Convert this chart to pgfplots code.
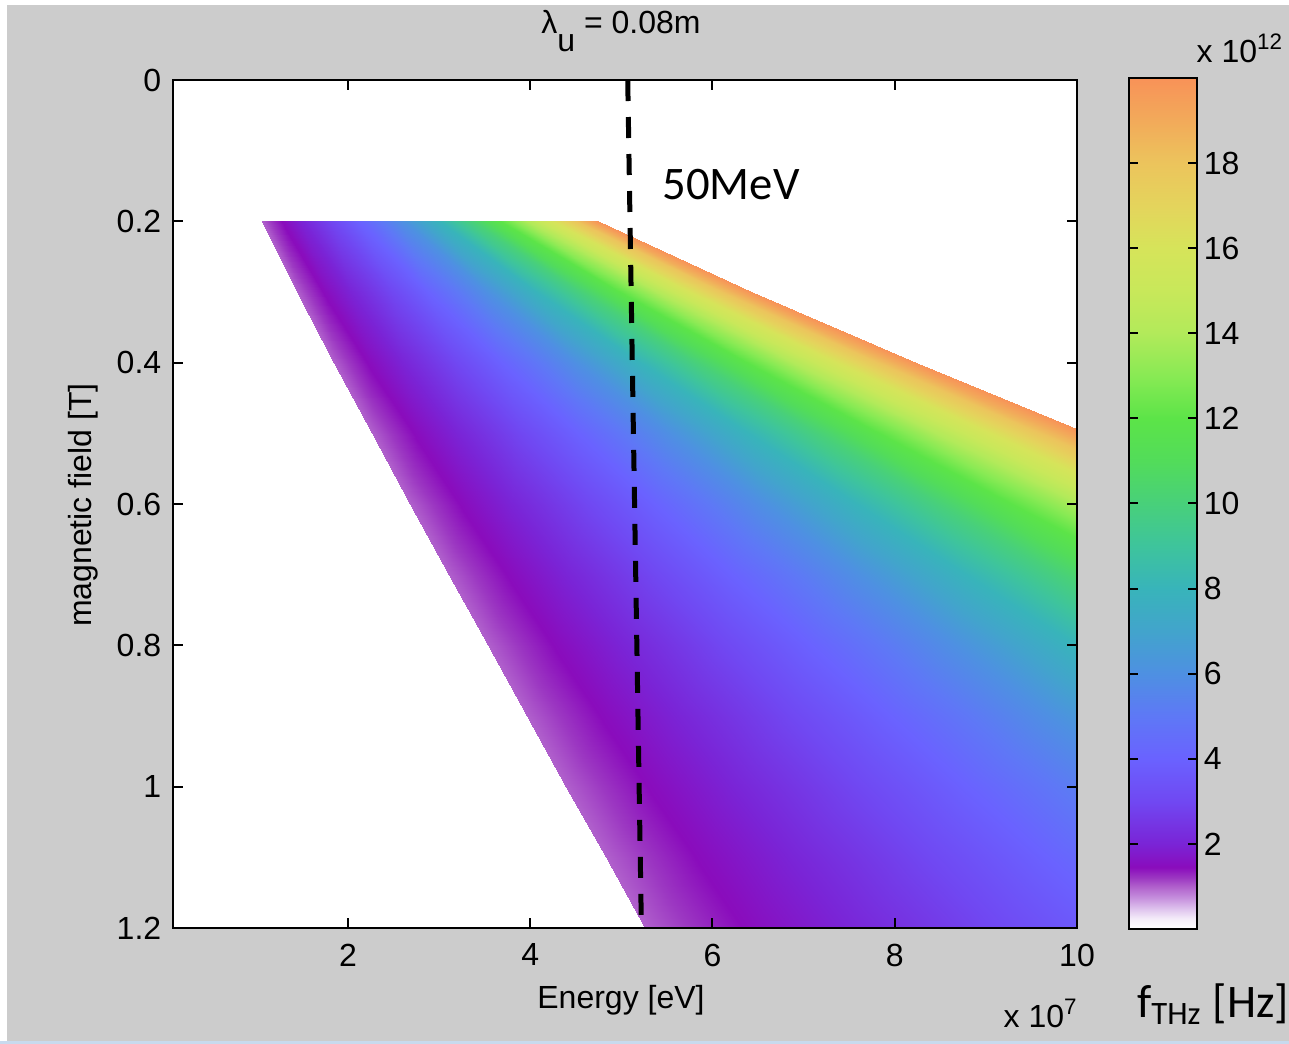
\documentclass[border=0pt]{standalone}
\usepackage{pgfplots}
\pgfplotsset{compat=1.18}
\usepackage{fontspec}
\setmainfont{Liberation Sans}
\newfontfamily\calibri{Carlito}
\definecolor{figgray}{RGB}{204,204,204}
\definecolor{screenblue}{RGB}{200,218,238}

% colormap (positions = f in units of 1e11 Hz)
\pgfplotsset{
  colormap={thz}{
    rgb255(0pt)=(255,255,255);
    rgb255(2.5pt)=(244,236,249);
    rgb255(5pt)=(220,190,236);
    rgb255(7.5pt)=(196,140,220);
    rgb255(10pt)=(176,96,204);
    rgb255(12pt)=(156,56,194);
    rgb255(14.5pt)=(138,12,188);
    rgb255(20pt)=(122,36,214);
    rgb255(30pt)=(112,72,242);
    rgb255(40pt)=(106,98,255);
    rgb255(50pt)=(94,120,246);
    rgb255(60pt)=(78,144,226);
    rgb255(70pt)=(66,164,204);
    rgb255(80pt)=(56,180,186);
    rgb255(90pt)=(62,196,156);
    rgb255(100pt)=(72,208,122);
    rgb255(110pt)=(82,220,90);
    rgb255(120pt)=(92,228,72);
    rgb255(130pt)=(136,234,84);
    rgb255(140pt)=(178,234,90);
    rgb255(150pt)=(200,232,90);
    rgb255(160pt)=(214,228,90);
    rgb255(170pt)=(228,212,92);
    rgb255(180pt)=(236,196,92);
    rgb255(190pt)=(242,170,90);
    rgb255(200pt)=(248,146,88)
  }
}

\begin{document}
\begin{tikzpicture}[font=\fontsize{9.6}{11.5}\selectfont]
% figure background (1 px = 0.3pt)
\fill[white] (0pt,0pt) rectangle (386.7pt,-313.2pt);
\fill[figgray] (2.1pt,-1.5pt) rectangle (386.7pt,-312.3pt);
\fill[screenblue] (0pt,-312.3pt) rectangle (386.7pt,-313.2pt);

\begin{axis}[
  at={(51.9pt,-278.4pt)}, anchor=south west,
  scale only axis, width=271.2pt, height=254.4pt,
  xmin=0.08, xmax=10, ymin=0, ymax=1.2, y dir=reverse,
  axis background/.style={fill=white},
  axis on top,
  xtick={2,4,6,8,10}, xticklabels={2,4,6,8,10},
  ytick={0,0.2,0.4,0.6,0.8,1,1.2}, yticklabels={0,0.2,0.4,0.6,0.8,1,1.2},
  tick align=inside, tick pos=both,
  major tick length=3pt,
  every tick/.style={black, line width=0.6pt},
  axis line style={line width=0.75pt},
  tick label style={font=\fontsize{9.6}{11.5}\selectfont},
  xticklabel style={yshift=-1.2pt},
  colormap name=thz,
  point meta min=0, point meta max=20,
  colorbar,
  colorbar/width=20.4pt,
  colorbar style={
    at={(parent axis.north east)}, anchor=north west,
    xshift=7.1pt, yshift=0.6pt,
    scale only axis, width=20.4pt, height=255.3pt,
    ytick={2,4,6,8,10,12,14,16,18}, yticklabels={2,4,6,8,10,12,14,16,18},
    tick align=inside, ytick pos=both, yticklabel pos=right,
    major tick length=2.7pt,
    every tick/.style={black, line width=0.6pt},
    axis line style={line width=0.75pt},
    yticklabel style={font=\fontsize{9.6}{11.5}\selectfont, xshift=-1.5pt},
  },
]
% f_THz (1e12 Hz) levels 1..20 along each row of constant field; E in 1e7 eV
\addplot[surf, shader=interp, mesh/cols=13, point meta=explicit]
  table[x=E, y=B, meta=f] {
E B f
1.060 0.2 1
1.298 0.2 1.5
1.499 0.2 2
1.836 0.2 3
2.120 0.2 4
2.597 0.2 6
2.998 0.2 8
3.352 0.2 10
3.672 0.2 12
3.966 0.2 14
4.240 0.2 16
4.497 0.2 18
4.740 0.2 20
1.440 0.3 1
1.763 0.3 1.5
2.036 0.3 2
2.493 0.3 3
2.879 0.3 4
3.526 0.3 6
4.072 0.3 8
4.552 0.3 10
4.987 0.3 12
5.386 0.3 14
5.758 0.3 16
6.107 0.3 18
6.438 0.3 20
1.844 0.4 1
2.258 0.4 1.5
2.608 0.4 2
3.194 0.4 3
3.688 0.4 4
4.517 0.4 6
5.215 0.4 8
5.831 0.4 10
6.388 0.4 12
6.899 0.4 14
7.376 0.4 16
7.823 0.4 18
8.246 0.4 20
2.260 0.5 1
2.768 0.5 1.5
3.196 0.5 2
3.914 0.5 3
4.520 0.5 4
5.536 0.5 6
6.392 0.5 8
7.147 0.5 10
7.829 0.5 12
8.456 0.5 14
9.040 0.5 16
9.588 0.5 18
10.107 0.5 20
2.682 0.6 1
3.285 0.6 1.5
3.793 0.6 2
4.646 0.6 3
5.364 0.6 4
6.570 0.6 6
7.586 0.6 8
8.482 0.6 10
9.291 0.6 12
10.036 0.6 14
10.728 0.6 16
11.379 0.6 18
11.995 0.6 20
3.108 0.7 1
3.806 0.7 1.5
4.395 0.7 2
5.383 0.7 3
6.216 0.7 4
7.613 0.7 6
8.791 0.7 8
9.828 0.7 10
10.766 0.7 12
11.629 0.7 14
12.432 0.7 16
13.186 0.7 18
13.899 0.7 20
3.536 0.8 1
4.331 0.8 1.5
5.001 0.8 2
6.125 0.8 3
7.073 0.8 4
8.662 0.8 6
10.002 0.8 8
11.183 0.8 10
12.250 0.8 12
13.232 0.8 14
14.145 0.8 16
15.003 0.8 18
15.815 0.8 20
3.966 0.9 1
4.857 0.9 1.5
5.609 0.9 2
6.870 0.9 3
7.932 0.9 4
9.715 0.9 6
11.218 0.9 8
12.542 0.9 10
13.739 0.9 12
14.840 0.9 14
15.864 0.9 16
16.827 0.9 18
17.737 0.9 20
4.397 1.0 1
5.385 1.0 1.5
6.218 1.0 2
7.616 1.0 3
8.794 1.0 4
10.771 1.0 6
12.437 1.0 8
13.905 1.0 10
15.232 1.0 12
16.453 1.0 14
17.588 1.0 16
18.655 1.0 18
19.664 1.0 20
4.829 1.1 1
5.914 1.1 1.5
6.829 1.1 2
8.364 1.1 3
9.658 1.1 4
11.828 1.1 6
13.658 1.1 8
15.270 1.1 10
16.728 1.1 12
18.068 1.1 14
19.316 1.1 16
20.487 1.1 18
21.595 1.1 20
5.261 1.2 1
6.444 1.2 1.5
7.441 1.2 2
9.113 1.2 3
10.523 1.2 4
12.888 1.2 6
14.881 1.2 8
16.638 1.2 10
18.226 1.2 12
19.686 1.2 14
21.045 1.2 16
22.322 1.2 18
23.529 1.2 20
};
% 50 MeV marker (hand-drawn, slightly tilted)
\addplot[black, line width=1.5pt, dash pattern=on 6.3pt off 4.8pt]
  coordinates {(5.07,0) (5.22,1.2)};
\end{axis}

\begin{scope}[x=0.3pt, y=-0.3pt]
\node at (621,31) {λ\raisebox{-1.1ex}{u} = 0.08m};
\node at (621,1000) {Energy [eV]};
\node[rotate=90] at (83,505) {magnetic field [T]};
\node[anchor=base west, inner sep=0pt] at (1003,1027) {x 10\textsuperscript{7}};
\node[anchor=base west, inner sep=0pt] at (1196,62) {x 10\textsuperscript{12}};
\node[font=\calibri\fontsize{14}{16}\selectfont] at (731,185) {50MeV};
\node[font=\calibri\fontsize{14}{16}\selectfont, anchor=base, inner sep=0pt] at (1213,1017) {f\textsubscript{THz} [Hz]};
\end{scope}
\pgfresetboundingbox
\path[use as bounding box] (0pt,0pt) rectangle (386.7pt,-313.2pt);
\end{tikzpicture}
\end{document}
